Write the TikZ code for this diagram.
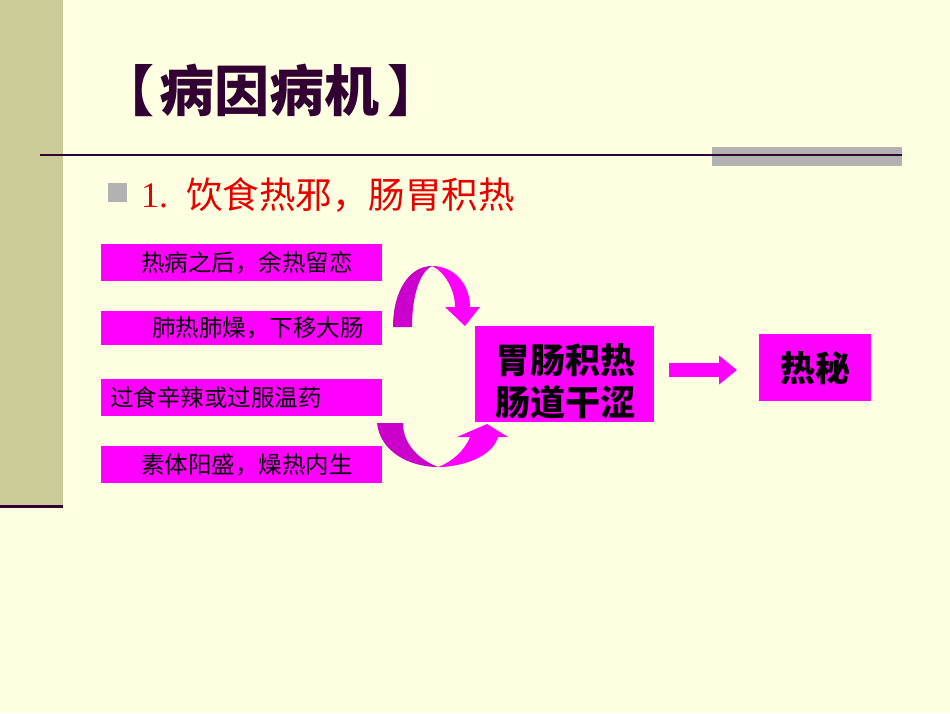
\documentclass[tikz,border=0pt]{standalone}
\usepackage{fontspec}
\setmainfont{Liberation Serif}
\newfontfamily\cjk{Noto Sans CJK SC}
\usetikzlibrary{arrows.meta,calc}
\definecolor{bg}{HTML}{FFFFE1}
\definecolor{band}{HTML}{CCCC99}
\definecolor{dpurp}{HTML}{330033}
\definecolor{gbar}{HTML}{B2B2B2}
\definecolor{mag}{HTML}{FF00FF}
\definecolor{dmag}{HTML}{CC00CC}
\definecolor{redt}{HTML}{E60000}
\begin{document}
\begin{tikzpicture}[x=1pt,y=-1pt,
  sbox/.style={fill=mag, minimum width=281, inner sep=0, anchor=north west},
  stext/.style={anchor=west, inner sep=0, text=black, font=\cjk\fontsize{23.5}{26}\selectfont},
  bbox/.style={fill=mag, inner sep=0, anchor=north west},
  btext/.style={text=black, align=center, inner sep=0, font=\cjk\bfseries\fontsize{35}{42}\selectfont},
  blk/.style={mag, line width=14, -{Triangle[length=18pt,width=28pt]}}]
\useasboundingbox (0,0) rectangle (950,713);
\fill[bg] (0,0) rectangle (950,713);
\fill[band] (0,0) rectangle (63,506);
\fill[dpurp] (0,505) rectangle (63,508);
\fill[gbar] (712,147) rectangle (902,166);
\draw[dpurp, line width=2.5] (40,155) -- (902,155);
\node[anchor=west, inner sep=0, text=dpurp, font=\cjk\bfseries\fontsize{55}{58}\selectfont] (title) at (99,90) {【\kern5pt 病因病机\kern8pt 】};
\fill[gbar] (108,183) rectangle (127,202);
\node[anchor=west, inner sep=0, text=redt, font=\fontsize{36}{40}\selectfont] (num) at (141,196) {1.};
\node[anchor=west, inner sep=0, text=redt, font=\cjk\fontsize{36.5}{40}\selectfont] (sub) at (186,195) {饮食热邪，肠胃积热};
% left boxes
\node[sbox, minimum height=37] (b1) at (101,244) {};
\node[sbox, minimum height=34] (b2) at (101,311) {};
\node[sbox, minimum height=37] (b3) at (101,379) {};
\node[sbox, minimum height=37] (b4) at (101,446) {};
\node[stext] (t1) at ([xshift=40]b1.west) {热病之后，余热留恋};
\node[stext] (t2) at ([xshift=51]b2.west) {肺热肺燥，下移大肠};
\node[stext] (t3) at ([xshift=9]b3.west) {过食辛辣或过服温药};
\node[stext] (t4) at ([xshift=40]b4.west) {素体阳盛，燥热内生};
% main boxes
\node[bbox, minimum width=179, minimum height=96] (big) at (475,326) {};
\node[btext] (bigt) at (565,381) {胃肠积热\\肠道干涩};
\node[bbox, minimum width=112, minimum height=67, font=\cjk\bfseries\fontsize{35}{40}\selectfont] (rebi) at (759,334) {热秘};
% block arrow
\draw[blk] ($(big.east |- 0,370)+(15,0)$) -- ($(rebi.west |- 0,370)+(-22,0)$);
% top curved arrow
\fill[dmag] (393,327) .. controls (393,290) and (410,266) .. (432,266)
  .. controls (420,272) and (412,295) .. (412,327) -- cycle;
\fill[mag] (432,266) .. controls (455,266) and (470,285) .. (470,307)
  -- (480,307) -- (465,326) -- (445,307) -- (455,307)
  .. controls (455,290) and (445,272) .. (432,266) -- cycle;
% bottom curved arrow
\fill[dmag] (377,423) .. controls (380,452) and (410,467) .. (438,467)
  .. controls (420,460) and (403,445) .. (403,423) -- cycle;
\fill[mag] (438,467) .. controls (460,467) and (492,458) .. (498,437)
  -- (508,437) -- (487,424) -- (457,437) -- (470,437)
  .. controls (465,450) and (452,462) .. (438,467) -- cycle;
\end{tikzpicture}
\end{document}
